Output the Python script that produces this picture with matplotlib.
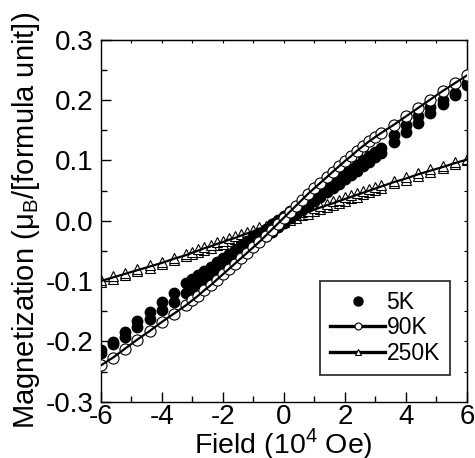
import matplotlib
matplotlib.use("Agg")
import matplotlib.pyplot as plt
import numpy as np

plt.rcParams['font.family'] = ['Liberation Sans', 'DejaVu Sans']
plt.rcParams['mathtext.fontset'] = 'custom'
plt.rcParams['mathtext.rm'] = 'Liberation Sans'

# Field values (10^4 Oe): coarse steps at high field, fine steps near zero
H_neg = [-6.0, -5.6, -5.2, -4.8, -4.4, -4.0, -3.6, -3.2]
H_mid = [-3.0, -2.8, -2.6, -2.4, -2.2, -2.0, -1.8, -1.6, -1.4, -1.2, -1.0,
         -0.8, -0.6, -0.4, -0.2, 0.0, 0.2, 0.4, 0.6, 0.8, 1.0, 1.2, 1.4,
         1.6, 1.8, 2.0, 2.2, 2.4, 2.6, 2.8, 3.0]
H_pos = [3.2, 3.6, 4.0, 4.4, 4.8, 5.2, 5.6, 6.0]
H = H_neg + H_mid + H_pos

# 5K, two sweep branches
m5_upper = [-0.215, -0.201, -0.185, -0.167, -0.151, -0.134, -0.119, -0.104,
            -0.097, -0.090, -0.083, -0.076, -0.069, -0.062, -0.055, -0.048,
            -0.041, -0.034, -0.027, -0.020, -0.013, -0.006, 0.001, 0.008,
            0.016, 0.023, 0.030, 0.037, 0.044, 0.051, 0.058, 0.065, 0.072,
            0.079, 0.086, 0.093, 0.100, 0.107, 0.114,
            0.121, 0.142, 0.159, 0.174, 0.188, 0.200, 0.212, 0.228]
m5_lower = [-0.219, -0.205, -0.192, -0.177, -0.163, -0.148, -0.134, -0.119,
            -0.112, -0.104, -0.097, -0.090, -0.083, -0.076, -0.068, -0.061,
            -0.054, -0.047, -0.040, -0.032, -0.025, -0.018, -0.011, -0.004,
            0.004, 0.011, 0.018, 0.025, 0.033, 0.040, 0.047, 0.054, 0.061,
            0.069, 0.076, 0.083, 0.090, 0.097, 0.105,
            0.112, 0.131, 0.147, 0.162, 0.178, 0.193, 0.208, 0.225]

# 90K
m90 = [-0.240, -0.227, -0.212, -0.197, -0.183, -0.168, -0.154, -0.140,
       -0.132, -0.124, -0.115, -0.107, -0.098, -0.089, -0.080, -0.071,
       -0.062, -0.053, -0.044, -0.035, -0.025, -0.015, -0.005, 0.005,
       0.015, 0.025, 0.035, 0.045, 0.054, 0.063, 0.072, 0.081, 0.090,
       0.099, 0.107, 0.116, 0.124, 0.132, 0.139,
       0.146, 0.159, 0.173, 0.187, 0.201, 0.215, 0.228, 0.241]

# 250K, two sweep branches
m250_upper = [-0.098, -0.092, -0.086, -0.080, -0.074, -0.068, -0.061, -0.055,
              -0.051, -0.047, -0.043, -0.040, -0.036, -0.033, -0.029, -0.026,
              -0.022, -0.019, -0.015, -0.011, -0.008, -0.004, -0.001, 0.003,
              0.007, 0.010, 0.014, 0.017, 0.021, 0.025, 0.028, 0.032, 0.035,
              0.039, 0.042, 0.046, 0.049, 0.053, 0.056,
              0.059, 0.066, 0.072, 0.079, 0.085, 0.091, 0.097, 0.103]
m250_lower = [-0.102, -0.096, -0.090, -0.084, -0.078, -0.072, -0.065, -0.059,
              -0.055, -0.052, -0.048, -0.045, -0.041, -0.038, -0.034, -0.031,
              -0.027, -0.023, -0.020, -0.016, -0.013, -0.009, -0.006, -0.002,
              0.002, 0.005, 0.009, 0.012, 0.016, 0.019, 0.023, 0.026, 0.030,
              0.033, 0.037, 0.040, 0.044, 0.047, 0.051,
              0.055, 0.062, 0.068, 0.075, 0.081, 0.087, 0.094, 0.100]

xticks = [-6, -4, -2, 0, 2, 4, 6]
yticks = [-0.3, -0.2, -0.1, 0.0, 0.1, 0.2, 0.3]
ytick_labels = ['-0.3', '-0.2', '-0.1', '0.0', '0.1', '0.2', '0.3']

fig = plt.figure(figsize=(4.75, 4.58), dpi=100)
ax = fig.add_axes([0.212, 0.123, 0.771, 0.790])

# 250K
m250_mid = [(a + b) / 2 for a, b in zip(m250_upper, m250_lower)]
ax.plot(H, m250_lower, ls='none', marker='^', ms=7.5, mfc='white', mec='black', mew=0.8, zorder=2)
ax.plot(H, m250_upper, ls='none', marker='^', ms=7.5, mfc='white', mec='black', mew=0.8, zorder=2)
ax.plot(H, m250_mid, color='black', lw=1.6, zorder=3)

# 5K
ax.plot(H, m5_lower, ls='none', marker='o', ms=7.5, mfc='black', mec='black', zorder=4)
ax.plot(H, m5_upper, ls='none', marker='o', ms=7.5, mfc='black', mec='black', zorder=4)

# 90K
ax.plot(H, m90, ls='none', marker='o', ms=8, mfc='white', mec='black', mew=0.8, zorder=5)
ax.plot(H, m90, color='black', lw=1.6, zorder=6)

# legend handles
h5, = ax.plot([], [], ls='none', marker='o', ms=6.5, mfc='black', mec='black', label='5K')
h90, = ax.plot([], [], color='black', lw=2.4, marker='o', ms=5, mfc='white', mec='black', mew=0.8, label='90K')
h250, = ax.plot([], [], color='black', lw=2.4, marker='^', ms=5, mfc='white', mec='black', mew=0.8, label='250K')
leg = ax.legend(handles=[h5, h90, h250], loc='lower right', bbox_to_anchor=(0.954, 0.074),
                fontsize=16.5, frameon=True, fancybox=False, edgecolor='black',
                handlelength=2.4, handletextpad=0.05, borderpad=0.45, labelspacing=0.1,
                borderaxespad=0)
leg.get_frame().set_linewidth(1.3)

ax.set_xlim(-6, 6)
ax.set_ylim(-0.3, 0.3)
ax.set_xticks(xticks)
ax.set_xticklabels([str(t) for t in xticks])
ax.set_yticks(yticks)
ax.set_yticklabels(ytick_labels)
ax.set_xticks(np.arange(-5, 6, 2), minor=True)
ax.set_yticks(np.arange(-0.25, 0.3, 0.1), minor=True)
ax.tick_params(which='major', direction='in', length=7, width=1, labelsize=20, pad=2)
ax.tick_params(axis='y', which='major', pad=5)
ax.tick_params(which='minor', direction='in', length=4, width=1)
for s in ax.spines.values():
    s.set_linewidth(1.0)

sx = ax.secondary_xaxis('top')
sx.set_xticks(np.arange(-6, 7, 1))
sx.set_xticklabels([])
sx.tick_params(direction='in', length=2.5, width=0.8)
sy = ax.secondary_yaxis('right')
sy.set_yticks(np.arange(-0.3, 0.31, 0.05))
sy.set_yticklabels([])
sy.tick_params(direction='in', length=2.5, width=0.8)

ax.set_xlabel('Field (10$^\\mathregular{4}$ Oe)', fontsize=20.5, labelpad=-3)
ax.set_ylabel('Magnetization (\u03bc$_\\mathregular{B}$/[formula unit])', fontsize=21, labelpad=3)

fig.savefig('out.png', dpi=100)
